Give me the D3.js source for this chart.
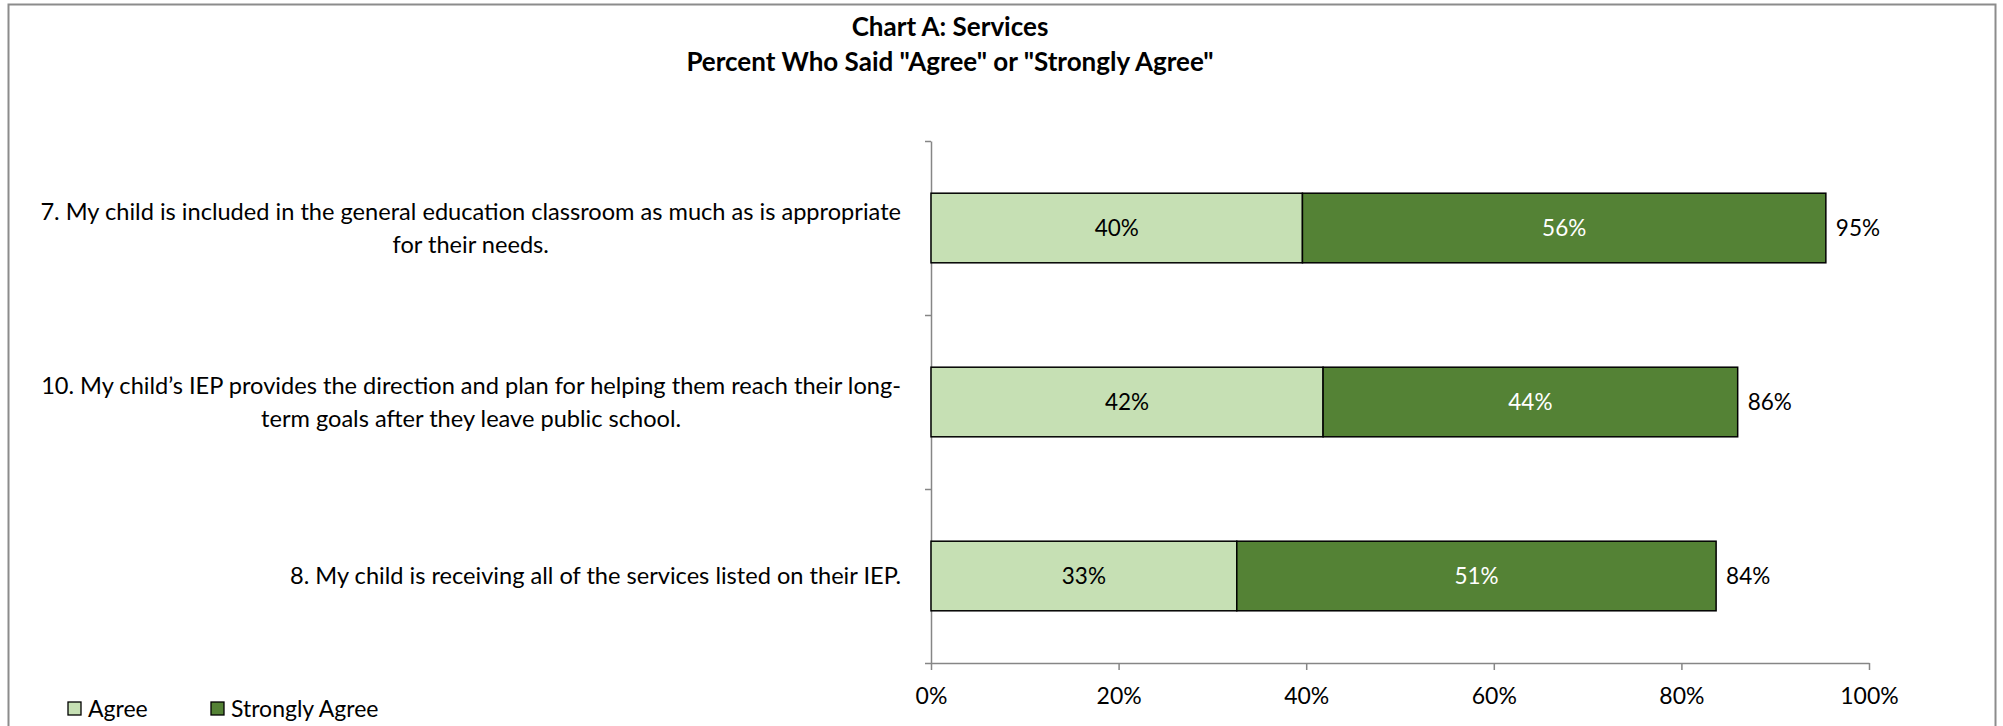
<!DOCTYPE html>
<html>
<head>
<meta charset="utf-8">
<script src="https://cdnjs.cloudflare.com/ajax/libs/d3/7.8.5/d3.min.js"></script>
<style>
body { margin: 0; background: #fff; }
text { font-family: Lato, "Open Sans", sans-serif; }
</style>
</head>
<body>
<div id="chart"></div>
<script>
// survey items, top to bottom, as wrapped in the original
var categories = ["Q7", "Q10", "Q8"];
var categoryLines = [
	["7. My child is included in the general education classroom as much as is appropriate", "for their needs."],
	["10. My child\u2019s IEP provides the direction and plan for helping them reach their long-", "term goals after they leave public school."],
	["8. My child is receiving all of the services listed on their IEP."]
];
var agree = [39.6, 41.8, 32.6];
var stronglyAgree = [55.8, 44.2, 51.1];
var xTicks = [0, 20, 40, 60, 80, 100];
var seriesNames = ["Agree", "Strongly Agree"];
var seriesColors = ["#c6e0b4", "#548235"];
var titleLines = ["Chart A: Services", "Percent Who Said \"Agree\" or \"Strongly Agree\""];

var W = 2003, H = 726;
var plot = { left: 931, right: 1869, top: 141, bottom: 663 };
var axisColor = "#868686";

var svg = d3.select("#chart").append("svg")
	.attr("width", W)
	.attr("height", H);

// chart frame
svg.append("rect")
	.attr("x", 8.5).attr("y", 4.5)
	.attr("width", 1987).attr("height", 800)
	.attr("fill", "#fff")
	.attr("stroke", "#8c8c8c")
	.attr("stroke-width", 2);

// title
svg.append("g").selectAll("text")
	.data(titleLines)
	.enter().append("text")
	.attr("x", 950)
	.attr("y", function(d, i) { return 27 + i * 35; })
	.attr("dy", "0.35em")
	.attr("text-anchor", "middle")
	.style("font-weight", "bold")
	.style("font-size", "26px")
	.text(function(d) { return d; });

var x = d3.scaleLinear().domain([0, 100]).range([plot.left, plot.right]);
var y = d3.scaleBand().domain(categories).range([plot.top, plot.bottom])
	.paddingInner(0.6).paddingOuter(0.3);
var yEdge = d3.scaleLinear().domain([0, categories.length]).range([plot.top, plot.bottom]);

// x axis
var xAxis = svg.append("g")
	.attr("transform", "translate(0," + plot.bottom + ")")
	.call(d3.axisBottom(x).tickValues(xTicks).tickFormat(function(d) { return d + "%"; })
		.tickSize(7).tickSizeOuter(0).tickPadding(18));
xAxis.selectAll("path, line").attr("stroke", axisColor).attr("stroke-width", 1.5);
xAxis.selectAll("text").style("font-size", "23px").attr("fill", "#000").style("font-family", "Lato, sans-serif");

// y axis (ticks sit between categories)
var yAxis = svg.append("g")
	.attr("transform", "translate(" + plot.left + ",0)")
	.call(d3.axisLeft(yEdge).tickValues(d3.range(categories.length + 1)).tickFormat("")
		.tickSize(6).tickSizeOuter(0));
yAxis.selectAll("path, line").attr("stroke", axisColor).attr("stroke-width", 1.5);

// stacked bars
var rows = categories.map(function(c, i) {
	return { cat: c, lines: categoryLines[i], a: agree[i], s: stronglyAgree[i] };
});
var bar = svg.append("g").selectAll("g")
	.data(rows)
	.enter().append("g");

bar.append("rect")
	.attr("x", x(0))
	.attr("y", function(d) { return y(d.cat); })
	.attr("width", function(d) { return x(d.a) - x(0); })
	.attr("height", y.bandwidth())
	.attr("fill", seriesColors[0])
	.attr("stroke", "#000")
	.attr("stroke-width", 1.5);
bar.append("rect")
	.attr("x", function(d) { return x(d.a); })
	.attr("y", function(d) { return y(d.cat); })
	.attr("width", function(d) { return x(d.a + d.s) - x(d.a); })
	.attr("height", y.bandwidth())
	.attr("fill", seriesColors[1])
	.attr("stroke", "#000")
	.attr("stroke-width", 1.5);

var mid = function(d) { return y(d.cat) + y.bandwidth() / 2; };
bar.append("text")
	.attr("x", function(d) { return x(d.a / 2); })
	.attr("y", mid).attr("dy", "0.35em")
	.attr("text-anchor", "middle")
	.style("font-size", "22.5px")
	.attr("fill", "#000")
	.text(function(d) { return Math.round(d.a) + "%"; });
bar.append("text")
	.attr("x", function(d) { return x(d.a + d.s / 2); })
	.attr("y", mid).attr("dy", "0.35em")
	.attr("text-anchor", "middle")
	.style("font-size", "22.5px")
	.attr("fill", "#fff")
	.text(function(d) { return Math.round(d.s) + "%"; });
bar.append("text")
	.attr("x", function(d) { return x(d.a + d.s) + 10; })
	.attr("y", mid).attr("dy", "0.35em")
	.style("font-size", "22.5px")
	.attr("fill", "#000")
	.text(function(d) { return Math.round(d.a + d.s) + "%"; });

// category labels: wrapped lines centred on each other, block right-aligned at the axis
var labelRight = 901, lineGap = 33;
bar.each(function(d) {
	var g = d3.select(this).append("g");
	var n = d.lines.length;
	var texts = g.selectAll("text").data(d.lines).enter().append("text")
		.attr("y", function(t, i) { return mid(d) + (i - (n - 1) / 2) * lineGap; })
		.attr("dy", "0.35em")
		.attr("text-anchor", "middle")
		.style("font-size", "23.6px")
		.text(function(t) { return t; });
	var maxW = 0;
	texts.each(function() { maxW = Math.max(maxW, this.getComputedTextLength()); });
	texts.attr("x", labelRight - maxW / 2);
});

// legend
var legendX = [68, 211];
var legend = svg.append("g").selectAll("g")
	.data(seriesNames)
	.enter().append("g")
	.attr("transform", function(d, i) { return "translate(" + legendX[i] + ",702)"; });
legend.append("rect")
	.attr("width", 13).attr("height", 13)
	.attr("fill", function(d, i) { return seriesColors[i]; })
	.attr("stroke", "#000")
	.attr("stroke-width", 1.3);
legend.append("text")
	.attr("x", 20).attr("y", 6.5).attr("dy", "0.35em")
	.style("font-size", "23px")
	.text(function(d) { return d; });
</script>
</body>
</html>
